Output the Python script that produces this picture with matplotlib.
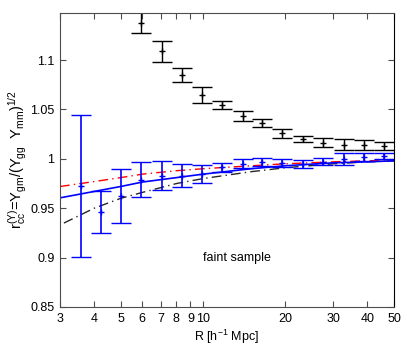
import numpy as np
import matplotlib
matplotlib.use('Agg')
import matplotlib.pyplot as plt
from matplotlib.ticker import FixedLocator, NullLocator

plt.rcParams['font.family'] = ['Liberation Sans', 'DejaVu Sans']
plt.rcParams['mathtext.default'] = 'regular'
plt.rcParams['font.size'] = 9

# bin centres [h^-1 Mpc]
R = [3.57, 4.23, 5.01, 5.96, 7.07, 8.36, 9.92, 11.77, 13.98, 16.5,
     19.5, 23.3, 27.6, 32.8, 38.8, 46.0]

# black points (only visible from R~6 on)
R_blk = R[3:]
r_blk = [1.138, 1.109, 1.085, 1.065, 1.0545, 1.0437, 1.036, 1.026,
         1.0202, 1.0162, 1.0145, 1.0141, 1.0128]
e_blk = [0.0105, 0.0105, 0.0073, 0.008, 0.0042, 0.005, 0.0042, 0.0047,
         0.003, 0.0046, 0.006, 0.0047, 0.0043]

# blue points
r_blu = [0.9724, 0.9462, 0.9622, 0.979, 0.9831, 0.9831, 0.9848, 0.9916,
         0.995, 0.9966, 0.996, 0.995, 0.9973, 1.000, 1.002, 1.003]
e_blu = [0.0722, 0.0214, 0.0276, 0.0175, 0.0146, 0.0115, 0.009, 0.0045,
         0.0047, 0.0042, 0.004, 0.004, 0.0037, 0.006, 0.004, 0.003]

# model curves
R_mod = [3, 4, 5, 6, 8, 10, 15, 20, 30, 40, 50]
blue_mod = [0.9605, 0.967, 0.972, 0.9765, 0.981, 0.9845, 0.990, 0.993,
            0.996, 0.997, 0.998]
red_mod = [0.972, 0.977, 0.981, 0.9845, 0.988, 0.990, 0.993, 0.995,
           0.997, 0.998, 0.999]
R_bmod = [3.1, 4, 5, 6, 8, 10, 15, 20, 30, 40, 50]
black_mod = [0.935, 0.950, 0.960, 0.966, 0.975, 0.980, 0.987, 0.991,
             0.995, 0.997, 0.998]

fig = plt.figure(figsize=(4.07, 3.47), dpi=100)
ax = fig.add_axes([0.1474, 0.1153, 0.8206, 0.8481])

ax.plot(R_bmod, black_mod, color='0.15', ls=(0, (7, 3, 1, 3)), lw=1)
ax.plot(R_mod, red_mod, color='red', ls=(0, (7, 3, 1, 3)), lw=1)
ax.plot(R_mod, blue_mod, color='blue', lw=1.2)

ax.errorbar(R_blk, r_blk, yerr=e_blk, fmt='+', color='black', ms=5,
            mew=1, elinewidth=1, capsize=7, capthick=1)
ax.errorbar(R, r_blu, yerr=e_blu, fmt='+', color='blue', ms=5,
            mew=1, elinewidth=1.2, capsize=7, capthick=1.2)

ax.text(10, 0.9, 'faint sample', ha='left', va='center')

ax.set_xscale('log')
ax.set_xlim(3, 50)
ax.set_ylim(0.85, 1.148)
xt = [3, 4, 5, 6, 7, 8, 9, 10, 20, 30, 40, 50]
ax.xaxis.set_major_locator(FixedLocator(xt))
ax.xaxis.set_minor_locator(NullLocator())
ax.set_xticklabels([str(v) for v in xt])
ax.set_yticks([0.85, 0.9, 0.95, 1.0, 1.05, 1.1])
ax.set_yticklabels(['0.85', '0.9', '0.95', '1', '1.05', '1.1'])
ax.tick_params(direction='in', length=4, top=True, right=True,
               color='0.3', pad=4)
for s in ax.spines.values():
    s.set_color('0.3')
ax.spines['right'].set_color('black')

ax.set_xlabel('R [h$^{-1}$ Mpc]', labelpad=2)
ax.set_ylabel(r'r$_{cc}^{(\Upsilon)}$=$\Upsilon_{gm}$/($\Upsilon_{gg}$  $\Upsilon_{mm}$)$^{1/2}$',
              fontsize=10.5, labelpad=1)

fig.savefig('out.png', dpi=100)
